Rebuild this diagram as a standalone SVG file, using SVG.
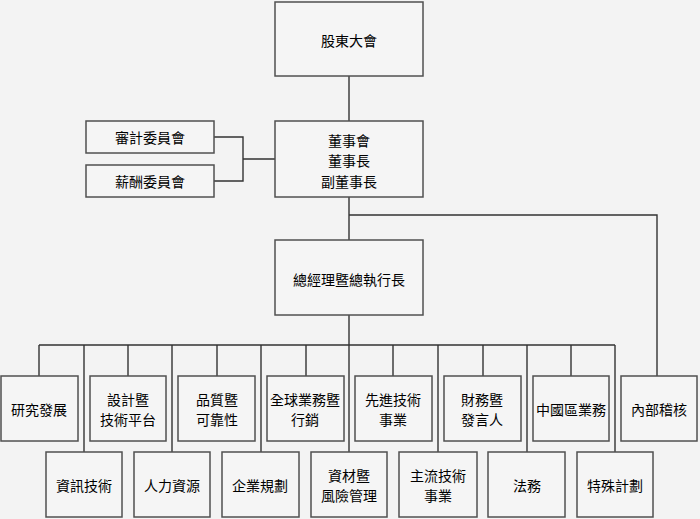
<svg xmlns="http://www.w3.org/2000/svg" width="700" height="519" viewBox="0 0 700 519">
<style>
.box{fill:#f5f5f5;stroke:#505050;stroke-width:1.5}
.t{font-family:"Noto Sans CJK TC","Noto Sans CJK SC",sans-serif;font-size:14px;fill:#000;text-anchor:middle;dominant-baseline:central}
.c{fill:none;stroke:#333;stroke-width:1.4}
</style>
<rect width="700" height="519" fill="#f3f3f3"/>
<g id="connectors">
<path class="c" d="M349 76V121M349 197V240M349 215H657V376M349 315V452"/>
<path class="c" d="M214 137H243V181H214M243 159H275"/>
<path class="c" d="M39 345H615M39 345V376M128 345V376M217 345V376M306 345V376M393 345V376M483 345V376M571 345V376"/>
<path class="c" d="M84 345V452M172 345V452M261 345V452M438 345V452M527 345V452M615 345V452"/>
</g>
<g id="n-shareholders"><rect class="box" x="275" y="2" width="148" height="74"/><text class="t" x="349" y="40">股東大會</text></g>
<g id="n-board"><rect class="box" x="275" y="121" width="148" height="76"/><text class="t" x="349" y="139.5">董事會</text><text class="t" x="349" y="160">董事長</text><text class="t" x="349" y="180.5">副董事長</text></g>
<g id="n-audit"><rect class="box" x="86" y="121" width="128" height="32"/><text class="t" x="150" y="137">審計委員會</text></g>
<g id="n-salary"><rect class="box" x="86" y="165" width="128" height="32"/><text class="t" x="150" y="181">薪酬委員會</text></g>
<g id="n-ceo"><rect class="box" x="275" y="240" width="148" height="75"/><text class="t" x="349" y="279">總經理暨總執行長</text></g>
<g id="n-rd"><rect class="box" x="1" y="376" width="77" height="65"/><text class="t" x="39" y="409">研究發展</text></g>
<g id="n-design"><rect class="box" x="90" y="376" width="76" height="65"/><text class="t" x="128" y="398.5">設計暨</text><text class="t" x="128" y="419">技術平台</text></g>
<g id="n-quality"><rect class="box" x="178" y="376" width="77" height="65"/><text class="t" x="217" y="398.5">品質暨</text><text class="t" x="217" y="419">可靠性</text></g>
<g id="n-global"><rect class="box" x="267" y="376" width="77" height="65"/><text class="t" x="305" y="398.5">全球業務暨</text><text class="t" x="305" y="419">行銷</text></g>
<g id="n-advanced"><rect class="box" x="355" y="376" width="77" height="65"/><text class="t" x="393" y="398.5">先進技術</text><text class="t" x="393" y="419">事業</text></g>
<g id="n-finance"><rect class="box" x="444" y="376" width="77" height="65"/><text class="t" x="482" y="398.5">財務暨</text><text class="t" x="482" y="419">發言人</text></g>
<g id="n-china"><rect class="box" x="533" y="376" width="76" height="65"/><text class="t" x="571" y="409">中國區業務</text></g>
<g id="n-internal"><rect class="box" x="621" y="376" width="76" height="65"/><text class="t" x="659" y="409">內部稽核</text></g>
<g id="n-it"><rect class="box" x="46" y="452" width="76" height="65"/><text class="t" x="84" y="485">資訊技術</text></g>
<g id="n-hr"><rect class="box" x="134" y="452" width="76" height="65"/><text class="t" x="172" y="485">人力資源</text></g>
<g id="n-planning"><rect class="box" x="222" y="452" width="77" height="65"/><text class="t" x="260" y="485">企業規劃</text></g>
<g id="n-material"><rect class="box" x="311" y="452" width="76" height="65"/><text class="t" x="349" y="474.5">資材暨</text><text class="t" x="349" y="495">風險管理</text></g>
<g id="n-mainstream"><rect class="box" x="399" y="452" width="78" height="65"/><text class="t" x="438" y="474.5">主流技術</text><text class="t" x="438" y="495">事業</text></g>
<g id="n-legal"><rect class="box" x="488" y="452" width="77" height="65"/><text class="t" x="527" y="485">法務</text></g>
<g id="n-special"><rect class="box" x="577" y="452" width="76" height="65"/><text class="t" x="615" y="485">特殊計劃</text></g>
</svg>
